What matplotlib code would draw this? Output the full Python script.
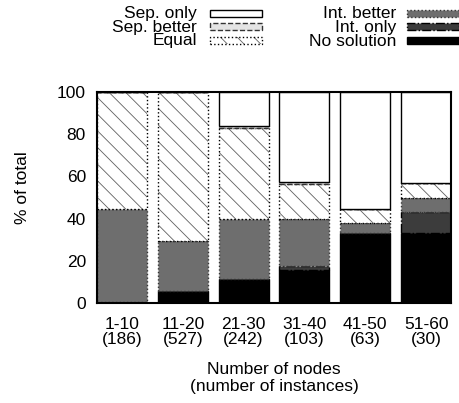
import matplotlib
matplotlib.use("Agg")
import matplotlib.pyplot as plt
from matplotlib.patches import Rectangle

plt.rcParams["font.family"] = ["Liberation Sans", "DejaVu Sans"]
plt.rcParams["hatch.linewidth"] = 0.6

# node-count groups and number of instances in each
groups = ["1-10", "11-20", "21-30", "31-40", "41-50", "51-60"]
instances = [186, 527, 242, 103, 63, 30]

# share of instances (%) per outcome, stacked bottom to top
no_solution = [0.5, 5.9, 11.6, 15.5, 33.3, 33.3]
int_only = [0.0, 0.0, 0.0, 1.9, 0.0, 10.0]
int_better = [44.1, 23.7, 28.1, 22.3, 4.8, 6.7]
equal = [55.4, 70.4, 43.4, 16.5, 6.3, 6.7]
sep_better = [0.0, 0.0, 0.8, 1.0, 0.0, 0.0]
sep_only = [0.0, 0.0, 16.1, 42.8, 55.6, 43.3]

series = [
    ("No solution", no_solution, dict(facecolor="black", edgecolor="black", linestyle="-")),
    ("Int. only", int_only, dict(facecolor="#3c3c3c", edgecolor="black", linestyle="-.")),
    ("Int. better", int_better, dict(facecolor="#6e6e6e", edgecolor="#333333", linestyle=":")),
    ("Equal", equal, dict(facecolor="white", edgecolor="black", linestyle=":")),
    ("Sep. better", sep_better, dict(facecolor="#e4e4e4", edgecolor="#333333", linestyle="--")),
    ("Sep. only", sep_only, dict(facecolor="white", edgecolor="black", linestyle="-")),
]
hatches = {"Equal": ("\\\\", "#606060")}  # pattern, hatch colour

FS = 12.5
W, H = 460, 403
fig = plt.figure(figsize=(W / 100, H / 100), dpi=100)
ax = fig.add_axes([97 / W, 1 - 303 / H, 354 / W, 211 / H])

x = list(range(len(groups)))
bottom = [0.0] * len(groups)
for name, vals, style in series:
    if name in hatches:
        # hatch first (coloured via edgecolor), outline on top
        pat, hc = hatches[name]
        ax.bar(x, vals, width=0.82, bottom=bottom, facecolor=style["facecolor"],
               edgecolor=hc, hatch=pat, linewidth=0)
        ax.bar(x, vals, width=0.82, bottom=bottom, fill=False, linewidth=1.0,
               edgecolor=style["edgecolor"], linestyle=style["linestyle"])
    else:
        ax.bar(x, vals, width=0.82, bottom=bottom, linewidth=1.0, **style)
    bottom = [b + v for b, v in zip(bottom, vals)]

ax.set_xlim(-0.41, len(groups) - 1 + 0.41)
ax.set_ylim(0, 100)
ax.set_yticks([0, 20, 40, 60, 80, 100])
ax.set_xticks(x)
ax.set_xticklabels([f"{g}\n({n})" for g, n in zip(groups, instances)],
                   linespacing=1.05)
ax.tick_params(axis="both", length=0, labelsize=FS, colors="black", pad=8)
ax.tick_params(axis="x", pad=10)
for s in ax.spines.values():
    s.set_linewidth(1.5)
    s.set_zorder(5)

ax.set_ylabel("% of total", fontsize=FS)
ax.yaxis.set_label_coords(-0.19, 0.545)
ax.set_xlabel("Number of nodes\n(number of instances)", fontsize=FS,
              linespacing=1.15)
ax.xaxis.set_label_coords(0.5, -0.28)

# gnuplot-style key: labels right-aligned, sample box to the right
legend_order = ["Sep. only", "Sep. better", "Equal", "Int. better", "Int. only", "No solution"]
styles = {name: style for name, _, style in series}
col_text_right = [197, 396]
col_box_left = [210, 407]
row_y = [13.3, 26.9, 40.5]
box_w, box_h = 52, 7
for i, name in enumerate(legend_order):
    c, r = divmod(i, 3)
    yc = row_y[r]
    fig.text(col_text_right[c] / W, 1 - (yc + 0.5) / H, name, ha="right",
             va="center", fontsize=FS)
    rect = (col_box_left[c] / W, 1 - (yc + box_h / 2) / H)
    st = styles[name]
    if name in hatches:
        pat, hc = hatches[name]
        fig.add_artist(Rectangle(rect, box_w / W, box_h / H, transform=fig.transFigure,
                                 facecolor=st["facecolor"], edgecolor=hc,
                                 hatch=pat, linewidth=0))
        fig.add_artist(Rectangle(rect, box_w / W, box_h / H, transform=fig.transFigure,
                                 fill=False, edgecolor=st["edgecolor"],
                                 linestyle=st["linestyle"], linewidth=1.0))
    else:
        fig.add_artist(Rectangle(rect, box_w / W, box_h / H, transform=fig.transFigure,
                                 linewidth=1.0, **st))

fig.savefig("out.png", dpi=100)
